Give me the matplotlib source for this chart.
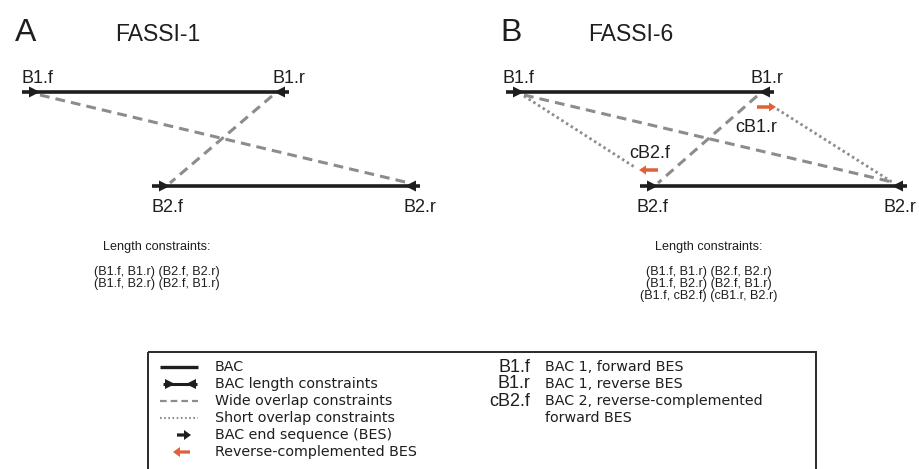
import matplotlib
matplotlib.use("Agg")
import matplotlib.pyplot as plt
from matplotlib import font_manager
from matplotlib.patches import Rectangle

# diagram content
panel_letters = ["A", "B"]
panel_titles = ["FASSI-1", "FASSI-6"]
constraints = [
    ["(B1.f, B1.r) (B2.f, B2.r)", "(B1.f, B2.r) (B2.f, B1.r)"],
    ["(B1.f, B1.r) (B2.f, B2.r)", "(B1.f, B2.r) (B2.f, B1.r)",
     "(B1.f, cB2.f) (cB1.r, B2.r)"],
]
# BAC segments per panel: (x_start, x_end)
bac1 = [(22, 289), (506, 774)]
bac2 = [(152, 420), (640, 907)]
bac_y = [92, 186]
bes_names = [["B1.f", "B1.r"], ["B2.f", "B2.r"]]

legend_items = ["BAC", "BAC length constraints", "Wide overlap constraints",
                "Short overlap constraints", "BAC end sequence (BES)",
                "Reverse-complemented BES"]
abbrev = ["B1.f", "B1.r", "cB2.f", ""]
abbrev_desc = ["BAC 1, forward BES", "BAC 1, reverse BES",
               "BAC 2, reverse-complemented", "forward BES"]

BLACK = "#1e1e1e"
GREY = "#8c8c8c"
ORANGE = "#e0603a"
SANS = ["Liberation Sans", "DejaVu Sans"]
LEG = ["DejaVu Sans"]


def have(name):
    try:
        font_manager.findfont(name, fallback_to_default=False)
        return True
    except Exception:
        return False


if have("Liberation Sans Narrow"):
    NARROW, nsize = ["Liberation Sans Narrow", "Liberation Sans"], 9.4
else:
    NARROW, nsize = SANS, 9.1

fig = plt.figure(figsize=(9.2, 4.69), dpi=100)
ax = fig.add_axes([0, 0, 1, 1])
ax.set_xlim(0, 920)
ax.set_ylim(469, 0)
ax.axis("off")


def head(x_tip, y, direction, color=BLACK, size=10):
    ax.arrow(x_tip - direction * size, y, direction * size, 0, width=0.01,
             head_width=size, head_length=size, length_includes_head=True,
             fc=color, ec=color, lw=0, zorder=5)


def thick_arrow(x0, x1, y, color):
    ax.arrow(x0, y, x1 - x0, 0, width=3.5, head_width=9, head_length=7,
             length_includes_head=True, fc=color, ec=color, lw=0, zorder=5)


def wide(p, q):
    ax.plot([p[0], q[0]], [p[1], q[1]], color=GREY, lw=2.2,
            dashes=(3.2, 2.0), solid_capstyle="butt", zorder=3)


def short(p, q):
    ax.plot([p[0], q[0]], [p[1], q[1]], color=GREY, lw=2.0,
            dashes=(0.9, 1.1), zorder=3)


title_x = [(15, 115), (500, 588)]
label_dx = [[15, 0], [12, -7]]
tips = []
for i in range(2):
    lx, tx = title_x[i]
    ax.text(lx, 41, panel_letters[i], fontsize=23, family=SANS, color=BLACK,
            va="baseline", ha="left")
    ax.text(tx, 41, panel_titles[i], fontsize=16.5, family=SANS,
            color=BLACK, va="baseline", ha="left")
    t = []
    for (x0, x1), y, names, base in zip([bac1[i], bac2[i]], bac_y, bes_names,
                                        [83, 212]):
        ax.plot([x0, x1], [y, y], color=BLACK, lw=2.6, solid_capstyle="butt",
                zorder=4)
        tf, tr = x0 + 18, x1 - 15
        head(tf, y, 1, size=11)
        head(tr, y, -1, size=11)
        t.append((tf, tr, y))
        ax.text(x0 + label_dx[i][0], base, names[0], fontsize=13,
                family=SANS, color=BLACK, ha="center", va="baseline")
        ax.text(x1 + label_dx[i][1], base, names[1], fontsize=13,
                family=SANS, color=BLACK, ha="center", va="baseline")
    tips.append(t)
    (f1, r1, y1), (f2, r2, y2) = t
    wide((f1, y1 + 3), (r2, y2 - 4))
    wide((r1 - 2, y1 + 4), (f2, y2 - 3))

    # length constraints text
    cx = 157 if i == 0 else 709
    ax.text(cx, 247, "Length constraints:", fontsize=nsize, family=NARROW,
            color=BLACK, ha="center", va="center")
    for k, line in enumerate(constraints[i]):
        ax.text(cx, 272 + 12 * k, line, fontsize=nsize, family=NARROW,
                color=BLACK, ha="center", va="center")

# FASSI-6 short overlap constraints with reverse-complemented BES
(f1, r1, y1), (f2, r2, y2) = tips[1]
short((f1, y1 + 4), (636, 168))
short((777, 109), (r2, y2 - 4))
thick_arrow(658, 639, 170, ORANGE)
thick_arrow(757, 776, 107, ORANGE)
ax.text(650, 158, "cB2.f", fontsize=13, family=SANS, color=BLACK,
        ha="center", va="baseline")
ax.text(756, 132, "cB1.r", fontsize=13, family=SANS, color=BLACK,
        ha="center", va="baseline")

# legend box
ax.add_patch(Rectangle((148, 352), 668, 140, fill=False, ec="#2a2a2a",
                       lw=1.4, zorder=2, clip_on=False))
rows = [367 + 17 * k for k in range(6)]
for y, label in zip(rows, legend_items):
    ax.text(215, y, label, fontsize=10.3, family=LEG, color=BLACK,
            ha="left", va="center")
ax.plot([160, 198], [rows[0]] * 2, color=BLACK, lw=2.4, solid_capstyle="butt")
ax.plot([163, 197], [rows[1]] * 2, color=BLACK, lw=2.2, solid_capstyle="butt")
head(175, rows[1], 1, size=10)
head(186, rows[1], -1, size=10)
ax.plot([160, 198], [rows[2]] * 2, color=GREY, lw=1.6, dashes=(3.0, 1.8))
ax.plot([160, 198], [rows[3]] * 2, color=GREY, lw=1.5, dashes=(0.8, 1.2))
ax.arrow(177, rows[4], 14, 0, width=3.2, head_width=10, head_length=7,
         length_includes_head=True, fc=BLACK, ec=BLACK, lw=0)
ax.arrow(190, rows[5], -17, 0, width=3.2, head_width=10, head_length=7,
         length_includes_head=True, fc=ORANGE, ec=ORANGE, lw=0)

for y, a, d in zip(rows, abbrev, abbrev_desc):
    if a:
        ax.text(530, y, a, fontsize=13, family=SANS, color=BLACK,
                ha="right", va="center")
    ax.text(545, y, d, fontsize=10.3, family=LEG, color=BLACK,
            ha="left", va="center")

fig.savefig("out.png", dpi=100, facecolor="white")
